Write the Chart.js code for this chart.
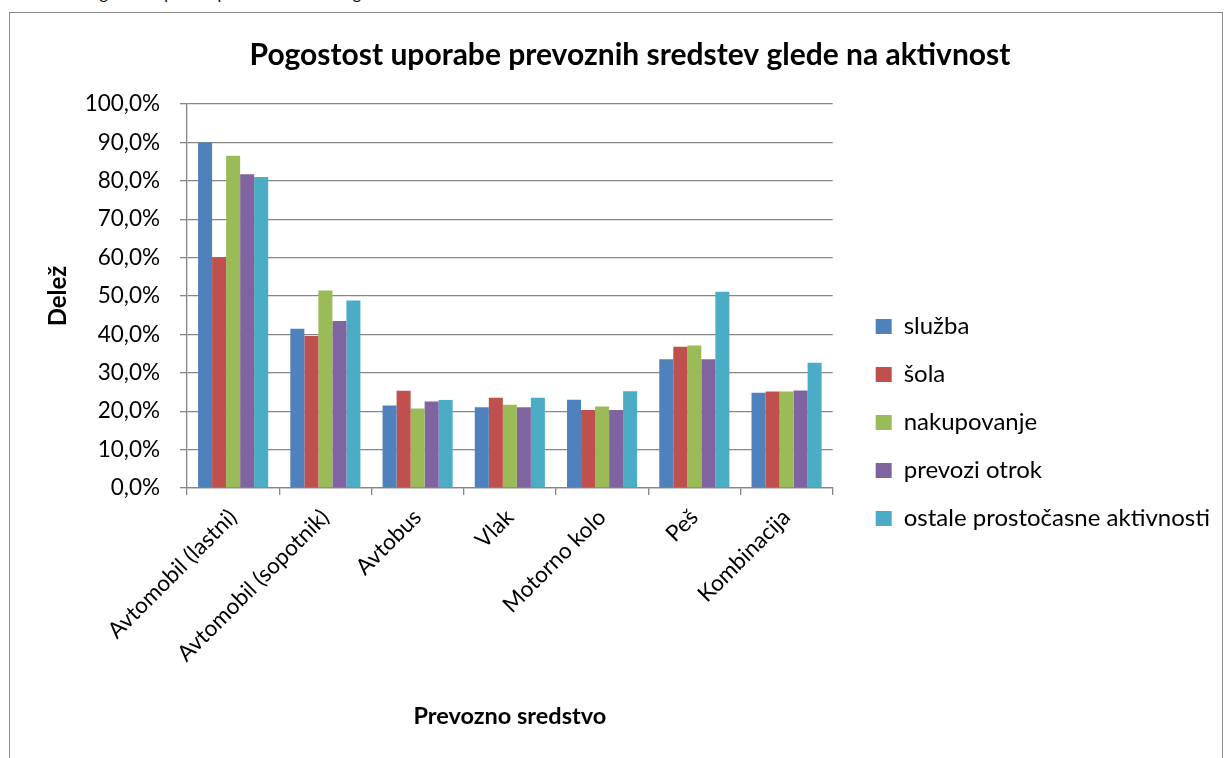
<!DOCTYPE html>
<html>
<head>
<meta charset="utf-8">
<script src="https://cdn.jsdelivr.net/npm/chart.js@4.4.1/dist/chart.umd.min.js"></script>
<style>
  body { margin: 0; background: #fff; }
  #napis { position: absolute; left: 0; top: 0; width: 700px; height: 6px; overflow: hidden; }
  #napis span { position: absolute; left: 0; top: -17px; font: 16px Lato, sans-serif; color: #000; white-space: nowrap; }
  #okvir { position: absolute; left: 9px; top: 12px; width: 1212px; height: 760px; border: 1px solid #8c8c8c; }
  #graf { position: absolute; left: 0; top: 0; width: 1226px; height: 758px; }
</style>
</head>
<body>
<div id="napis"><span>Grafikon 4: Pogostost uporabe prevoznih sredstev glede na aktivnost</span></div>
<div id="okvir"></div>
<div id="graf"><canvas id="chartPrevoz"></canvas></div>
<script>
const kategorije = ['Avtomobil (lastni)', 'Avtomobil (sopotnik)', 'Avtobus', 'Vlak', 'Motorno kolo', 'Peš', 'Kombinacija'];
const sluzba = [90.0, 41.5, 21.5, 21.0, 23.0, 33.5, 24.8];
const sola = [60.1, 39.6, 25.3, 23.5, 20.3, 36.8, 25.1];
const nakupovanje = [86.5, 51.4, 20.7, 21.7, 21.2, 37.1, 25.1];
const prevoziOtrok = [81.7, 43.5, 22.5, 21.0, 20.3, 33.5, 25.4];
const ostale = [81.0, 48.8, 22.9, 23.5, 25.2, 51.1, 32.6];
const yMin = 0;
const yMax = 100;
const yKorak = 10;

const pisava = 'Lato, sans-serif';
const siva = '#868686';

const prevozChart = document.getElementById('chartPrevoz');

const graf = new Chart(prevozChart, {
  type: 'bar',
  data: {
    labels: kategorije,
    datasets: [
      { label: 'služba', data: sluzba, backgroundColor: '#4F81BD' },
      { label: 'šola', data: sola, backgroundColor: '#C0504D' },
      { label: 'nakupovanje', data: nakupovanje, backgroundColor: '#9BBB59' },
      { label: 'prevozi otrok', data: prevoziOtrok, backgroundColor: '#8064A2' },
      { label: 'ostale prostočasne aktivnosti', data: ostale, backgroundColor: '#4BACC6' }
    ]
  },
  options: {
    responsive: true,
    maintainAspectRatio: false,
    animation: false,
    datasets: { bar: { categoryPercentage: 0.76, barPercentage: 1.0, borderWidth: 0 } },
    layout: { padding: { top: 20, left: 40, right: 6, bottom: 23 } },
    plugins: {
      title: {
        display: true,
        text: 'Pogostost uporabe prevoznih sredstev glede na aktivnost',
        color: '#000',
        font: { family: pisava, size: 30, weight: 'bold' },
        padding: { top: 17, bottom: 31 }
      },
      legend: {
        position: 'right',
        maxWidth: 420,
        title: { display: true, text: '', font: { size: 12 }, padding: { top: 75.6, bottom: 0 } },
        labels: {
          color: '#000',
          font: { family: pisava, size: 24 },
          boxWidth: 16,
          boxHeight: 15,
          padding: 24
        }
      },
      tooltip: { enabled: false }
    },
    scales: {
      x: {
        grid: { display: true, drawOnChartArea: false, offset: true, color: siva, lineWidth: 1.3, tickLength: 7 },
        border: { color: siva, width: 1.3 },
        ticks: { color: '#000', font: { family: pisava, size: 22.5 }, maxRotation: 45, minRotation: 45, padding: 9 },
        title: { display: true, text: 'Prevozno sredstvo', color: '#000', font: { family: pisava, size: 23.5, weight: 'bold' } },
        afterFit: function (s) { s.height = 247; }
      },
      y: {
        min: yMin,
        max: yMax,
        grid: { color: siva, lineWidth: 1.3, tickLength: 7 },
        border: { color: siva, width: 1.3 },
        ticks: {
          stepSize: yKorak,
          color: '#000',
          font: { family: pisava, size: 22.5 },
          padding: 20,
          callback: function (v) { return v.toFixed(1).replace('.', ',') + '%'; }
        },
        title: { display: true, text: 'Delež', color: '#000', font: { family: pisava, size: 24, weight: 'bold' } },
        afterFit: function (s) { s.width = 147; }
      },
      razmik: {
        type: 'linear',
        position: 'right',
        display: true,
        grid: { display: false },
        border: { display: false },
        ticks: { display: false },
        afterFit: function (s) { s.width = 19; }
      }
    }
  }
});
</script>
</body>
</html>
